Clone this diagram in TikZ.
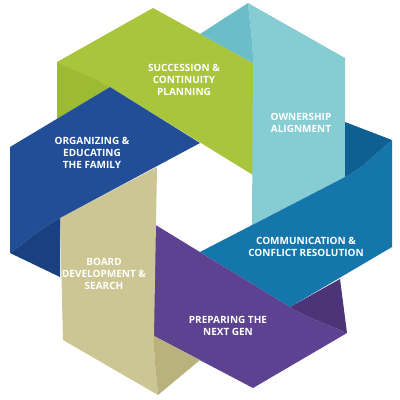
\documentclass[tikz,border=0pt]{standalone}
\usepackage{fontspec}
\setmainfont{Open Sans}
\newlength{\du}
\setlength{\du}{1pt}

\begin{document}
\begin{tikzpicture}[ribbontext/.style={text=white, font=\bfseries\fontsize{10}{11.8}\selectfont, align=center, inner sep=0pt}]
\pgftransformxscale{1.000000}
\pgftransformyscale{-1.000000}
\useasboundingbox (0\du,0\du) rectangle (400\du,400\du);
% green ribbon
\definecolor{dialinecolor}{rgb}{0.659, 0.773, 0.231}
\pgfsetfillcolor{dialinecolor}
\fill (57\du,62\du) .. controls (75.6\du,70.8\du) and (90.1\du,74.7\du) .. (110\du,87\du)--(253\du,175\du)--(253\du,63\du)--(153\du,8\du)--cycle;
\definecolor{dialinecolor}{rgb}{0.612, 0.733, 0.200}
\pgfsetfillcolor{dialinecolor}
\fill (57\du,119\du)--(57\du,62\du) .. controls (75.6\du,70.8\du) and (90.1\du,74.7\du) .. (110\du,87\du)--cycle;
% teal ribbon
\definecolor{dialinecolor}{rgb}{0.525, 0.804, 0.827}
\pgfsetfillcolor{dialinecolor}
\fill (248\du,3\du) .. controls (249.8\du,24\du) and (253\du,39\du) .. (253\du,63\du)--(252\du,225\du)--(345\du,177\du)--(345\du,58\du)--cycle;
\definecolor{dialinecolor}{rgb}{0.420, 0.741, 0.784}
\pgfsetfillcolor{dialinecolor}
\fill (200\du,34\du)--(248\du,3\du) .. controls (249.8\du,24\du) and (253\du,39\du) .. (253\du,63\du)--cycle;
% communication ribbon
\definecolor{dialinecolor}{rgb}{0.082, 0.463, 0.675}
\pgfsetfillcolor{dialinecolor}
\fill (392\du,140\du) .. controls (375.6\du,153\du) and (366.2\du,166\du) .. (345\du,177\du)--(200\du,252\du)--(290\du,307\du)--(392\du,247\du)--cycle;
\definecolor{dialinecolor}{rgb}{0.055, 0.376, 0.576}
\pgfsetfillcolor{dialinecolor}
\fill (345\du,122\du)--(392\du,140\du) .. controls (375.6\du,153\du) and (366.2\du,166\du) .. (345\du,177\du)--cycle;
% purple ribbon
\definecolor{dialinecolor}{rgb}{0.361, 0.259, 0.565}
\pgfsetfillcolor{dialinecolor}
\fill (347\du,333\du) .. controls (327\du,323.9\du) and (311.4\du,320\du) .. (290\du,307\du)--(154\du,224\du)--(154\du,336\du)--(253\du,388\du)--cycle;
\definecolor{dialinecolor}{rgb}{0.298, 0.204, 0.471}
\pgfsetfillcolor{dialinecolor}
\fill (340\du,279\du)--(347\du,333\du) .. controls (327\du,323.9\du) and (311.4\du,320\du) .. (290\du,307\du)--cycle;
% beige ribbon
\definecolor{dialinecolor}{rgb}{0.800, 0.776, 0.580}
\pgfsetfillcolor{dialinecolor}
\fill (158\du,395\du) .. controls (156.6\du,374.4\du) and (153.6\du,359.6\du) .. (154\du,336\du)--(157\du,167\du)--(60\du,218\du)--(63\du,340\du)--cycle;
\definecolor{dialinecolor}{rgb}{0.725, 0.698, 0.490}
\pgfsetfillcolor{dialinecolor}
\fill (200\du,360\du)--(158\du,395\du) .. controls (156.6\du,374.4\du) and (153.6\du,359.6\du) .. (154\du,336\du)--cycle;
% organizing ribbon
\definecolor{dialinecolor}{rgb}{0.129, 0.306, 0.592}
\pgfsetfillcolor{dialinecolor}
\fill (10\du,253\du) .. controls (27.5\du,240.8\du) and (38.5\du,229.5\du) .. (60\du,218\du)--(200\du,143\du)--(110\du,87\du)--(10\du,147\du)--cycle;
\definecolor{dialinecolor}{rgb}{0.098, 0.255, 0.510}
\pgfsetfillcolor{dialinecolor}
\fill (60\du,277\du)--(10\du,253\du) .. controls (27.5\du,240.8\du) and (38.5\du,229.5\du) .. (60\du,218\du)--cycle;
% labels
\node[ribbontext] (succession) at (184\du,80\du){SUCCESSION \&\\CONTINUITY\\PLANNING};
\node[ribbontext] (ownership) at (301\du,123\du){OWNERSHIP\\ALIGNMENT};
\node[ribbontext] (organizing) at (92\du,153\du){ORGANIZING \&\\EDUCATING\\THE FAMILY};
\node[ribbontext] (communication) at (306\du,247\du){COMMUNICATION \&\\CONFLICT RESOLUTION};
\node[ribbontext] (board) at (104\du,274\du){BOARD\\DEVELOPMENT \&\\SEARCH};
\node[ribbontext] (preparing) at (228\du,326\du){PREPARING THE\\NEXT GEN};
\end{tikzpicture}
\end{document}
